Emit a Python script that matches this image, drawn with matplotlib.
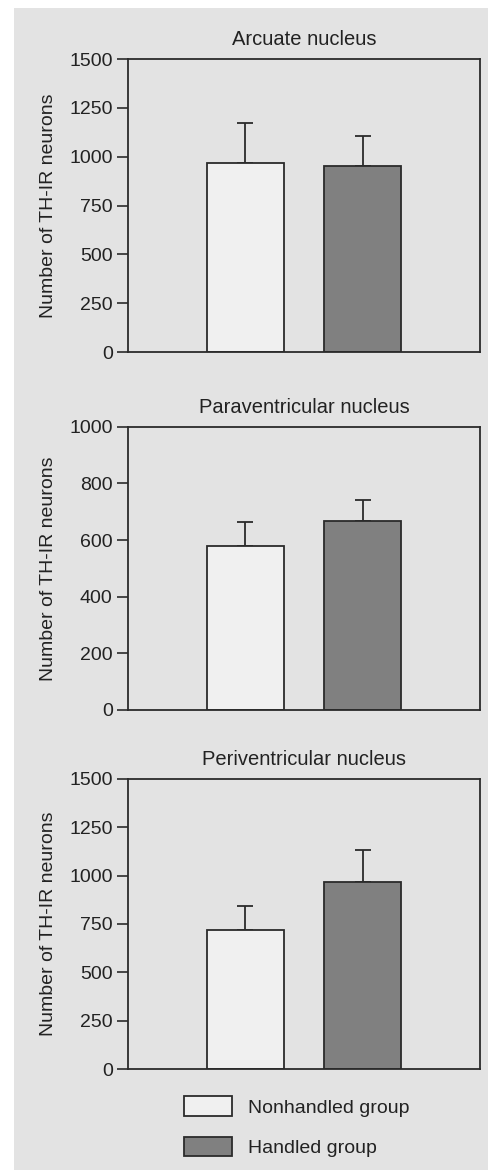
import matplotlib
matplotlib.use("Agg")
import matplotlib.pyplot as plt
from matplotlib.patches import Patch

plt.rcParams["font.family"] = ["Liberation Sans", "DejaVu Sans"]
plt.rcParams["font.size"] = 14

# data
titles = ["Arcuate nucleus", "Paraventricular nucleus", "Periventricular nucleus"]
groups = ["Nonhandled group", "Handled group"]
nonhandled_mean = [969, 580, 720]
nonhandled_err = [202, 85, 121]
handled_mean = [954, 668, 965]
handled_err = [152, 72, 165]
ymax = [1500, 1000, 1500]
yticks = [[0, 250, 500, 750, 1000, 1250, 1500],
          [0, 200, 400, 600, 800, 1000],
          [0, 250, 500, 750, 1000, 1250, 1500]]

BG = "#e3e3e3"
LIGHT = "#f0f0f0"
DARK = "#808080"
EDGE = "#2b2b2b"

fig = plt.figure(figsize=(4.89, 11.70), dpi=100, facecolor="white")
# gray card behind the plots
fig.patches.append(plt.Rectangle((14 / 489, 0), 1 - 14 / 489, 1 - 8 / 1170,
                                 transform=fig.transFigure, facecolor=BG,
                                 edgecolor="none", zorder=-10))

# axes rectangles [left, bottom, width, height] in figure fractions
boxes = [(0.2618, 0.6991, 0.7198, 0.2504),
         (0.2618, 0.3932, 0.7198, 0.2421),
         (0.2618, 0.0863, 0.7198, 0.2481)]

for i, box in enumerate(boxes):
    ax = fig.add_axes(box)
    ax.set_facecolor(BG)
    means = [nonhandled_mean[i], handled_mean[i]]
    errs = [nonhandled_err[i], handled_err[i]]
    ax.bar([0, 1], means, width=0.66, color=[LIGHT, DARK], edgecolor=EDGE,
           linewidth=1.3, zorder=2,
           yerr=[[0, 0], errs], capsize=5.8,
           error_kw=dict(ecolor=EDGE, elinewidth=1.3, capthick=1.3, zorder=1))
    ax.set_xlim(-1.0, 2.0)
    ax.set_ylim(0, ymax[i])
    ax.set_yticks(yticks[i])
    ax.set_xticks([])
    ax.tick_params(axis="y", direction="out", length=8, width=1.2,
                   color=EDGE, pad=3, labelcolor="#222222")
    for sp in ax.spines.values():
        sp.set_linewidth(1.3)
        sp.set_color(EDGE)
    ax.set_title(titles[i], fontsize=14.5, pad=10, color="#222222")
    ax.set_ylabel("Number of TH-IR neurons", labelpad=9, color="#222222")

handles = [Patch(facecolor=LIGHT, edgecolor=EDGE, linewidth=1.3),
           Patch(facecolor=DARK, edgecolor=EDGE, linewidth=1.3)]
fig.legend(handles, groups, loc="upper left", bbox_to_anchor=(0.376, 0.063),
           frameon=False, borderpad=0, borderaxespad=0, handlelength=2.45,
           handleheight=1.15, handletextpad=0.85, labelspacing=1.05,
           fontsize=14, labelcolor="#222222")

fig.savefig("out.png", dpi=100, facecolor=fig.get_facecolor())
